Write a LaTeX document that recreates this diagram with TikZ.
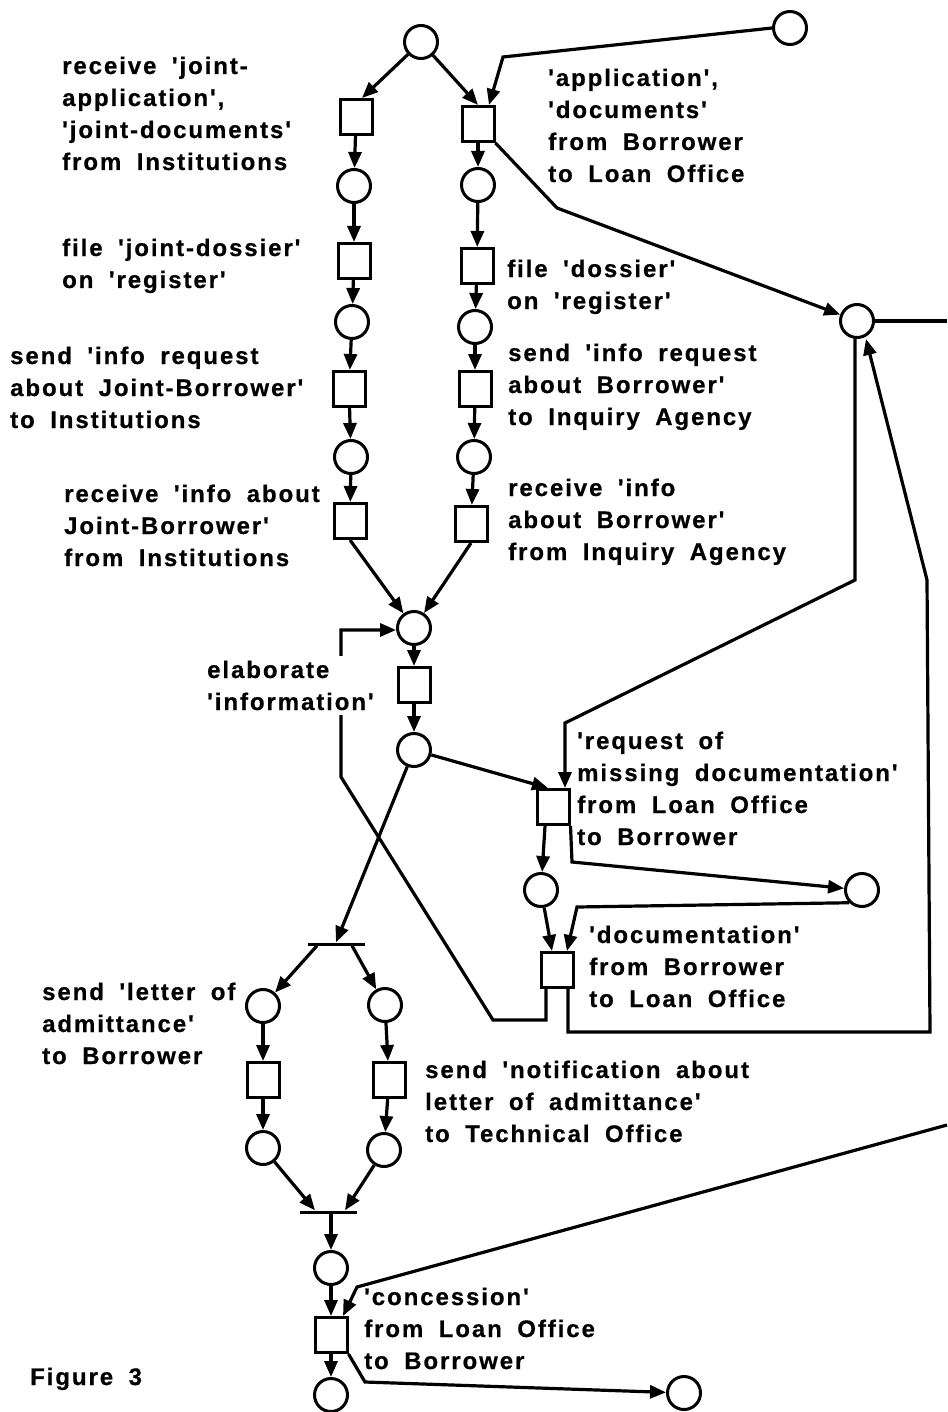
\documentclass[tikz,border=0pt]{standalone}
\usepackage{fontspec}
\newfontfamily\labfont[LetterSpace=8,WordSpace=1.8,Ligatures=TeXOff,BoldFeatures={FakeBold=0.6}]{Liberation Sans}
\usetikzlibrary{arrows.meta}
\begin{document}
\begin{tikzpicture}[x=1pt,y=-1pt,
  place/.style={circle,draw,minimum size=33pt,inner sep=0pt,line width=3pt},
  trans/.style={rectangle,draw,minimum width=32pt,minimum height=35pt,inner sep=0pt,line width=3pt},
  bar/.style={rectangle,fill=black,minimum width=57pt,minimum height=3pt,inner sep=0pt},
  arc/.style={-{Triangle[length=16pt,width=13pt]},line width=3.2pt},
  plain/.style={line width=3.2pt},
  lab/.style={anchor=base west,inner sep=0pt,align=left,font=\labfont\bfseries\fontsize{24}{32}\selectfont},
]
\useasboundingbox (0,0) rectangle (947,1412);

% places and transitions
\node[place] (P0) at (421,42) {};
\node[place] (Pin) at (790,28) {};
\node[trans] (TL1) at (356,117) {};
\node[place] (PL1) at (354,186) {};
\node[trans] (TL2) at (354,261) {};
\node[place] (PL2) at (352,322) {};
\node[trans] (TL3) at (349,389) {};
\node[place] (PL3) at (351,457) {};
\node[trans] (TL4) at (350,521) {};
\node[trans] (TR1) at (478,124) {};
\node[place] (PR1) at (478,185) {};
\node[trans] (TR2) at (477,266) {};
\node[place] (PR2) at (475,327) {};
\node[trans] (TR3) at (475,389) {};
\node[place] (PR3) at (474,457) {};
\node[trans] (TR4) at (471,524) {};
\node[place] (Pm) at (414,628) {};
\node[trans] (Te) at (414,685) {};
\node[place] (Pa) at (414,750) {};
\node[place] (Poff) at (857,321) {};
\node[trans] (Treq) at (553,807) {};
\node[place] (Preq) at (541,890) {};
\node[place] (Pbr) at (862,890) {};
\node[trans] (Tdoc) at (557,970) {};
\node[bar] (fork) at (336,944) {};
\node[place] (PLa) at (263,1006) {};
\node[place] (PRa) at (385,1005) {};
\node[trans] (TLa) at (263,1080) {};
\node[trans] (TRa) at (389,1080) {};
\node[place] (PLb) at (263,1148) {};
\node[place] (PRb) at (384,1150) {};
\node[bar] (join) at (328,1212) {};
\node[place] (Pc) at (331,1268) {};
\node[trans] (Tc) at (331,1335) {};
\node[place] (Pend) at (331,1395) {};
\node[place] (Pout) at (684,1393) {};
\coordinate (edgeR) at (947,321);
\coordinate (edgeC) at (947,1125);

% connectors
\draw[arc] (P0) -- ([xshift=6pt]TL1.north);
\draw[arc] (P0) -- (TR1.north);
\draw[arc] (Pin.west) -- (503,57) -- ([xshift=11pt]TR1.north);
\draw[arc] (TL1) -- (PL1);
\draw[arc] (PL1) -- (TL2);
\draw[arc] (TL2) -- (PL2);
\draw[arc] (PL2) -- (TL3);
\draw[arc] (TL3) -- (PL3);
\draw[arc] (PL3) -- (TL4);
\draw[arc] (TR1) -- (PR1);
\draw[arc] (PR1) -- (TR2);
\draw[arc] (TR2) -- (PR2);
\draw[arc] (PR2) -- (TR3);
\draw[arc] (TR3) -- (PR3);
\draw[arc] (PR3) -- (TR4);
\draw[arc] (TL4.south) -- (Pm);
\draw[arc] (TR4.south) -- (Pm);
\draw[arc] (Pm) -- (Te);
\draw[arc] (Te) -- (Pa);
\draw[arc] (TR1.south east) -- (557,208) -- (Poff);
\draw[plain] (Poff) -- (edgeR);
\draw[arc] ([xshift=-2pt]Poff.south) -- (855,580) -- (565,723) -- ([xshift=12pt]Treq.north);
\draw[arc] ([xshift=11pt]Tdoc.south) -- (568,1032) -- (930,1032) -- (927,580) -- ([xshift=9pt]Poff.south);
\draw[arc] (Pa) -- ([xshift=-5pt]Treq.north);
\draw[arc] (Pa) -- (fork.north);
\draw[arc] ([xshift=-8pt]Treq.south) -- (Preq);
\draw[arc] (Treq.south east) -- (572,862) -- (Pbr);
\draw[arc] (Preq) -- ([xshift=-5pt]Tdoc.north);
\draw[arc] (Pbr.south west) -- (577,907) -- ([xshift=10pt]Tdoc.north);
\draw[arc] ([xshift=-11pt]Tdoc.south) -- (546,1020) -- (493,1020) -- (341,777) -- (341,630) -- (Pm.west |- 341,630);
\draw[arc] ([xshift=-19pt]fork.south) -- (PLa);
\draw[arc] ([xshift=16pt]fork.south) -- (PRa);
\draw[arc] (PLa) -- (TLa);
\draw[arc] (TLa) -- (PLb);
\draw[arc] (PRa) -- (TRa);
\draw[arc] (TRa) -- (PRb);
\draw[arc] (PLb) -- ([xshift=-13pt]join.north);
\draw[arc] (PRb) -- ([xshift=17pt]join.north);
\draw[arc] ([xshift=3pt]join.south) -- (Pc);
\draw[arc] (Pc) -- (Tc);
\draw[arc] (Tc) -- (Pend);
\draw[arc] (Tc.south east) -- (365,1382) -- (Pout);
\draw[arc] (edgeC) -- (357,1287) -- ([xshift=12pt]Tc.north);

% labels (anchored at the baseline of their last line)
\node[lab] (t1) at (62,170) {receive 'joint-\\application',\\'joint-documents'\\from Institutions};
\node[lab] (t2) at (548,182) {'application',\\'documents'\\from Borrower\\to Loan Office};
\node[lab] (t3) at (62,288) {file 'joint-dossier'\\on 'register'};
\node[lab] (t4) at (507,309) {file 'dossier'\\on 'register'};
\node[lab] (t5) at (10,428) {send 'info request\\about Joint-Borrower'\\to Institutions};
\node[lab] (t6) at (508,425) {send 'info request\\about Borrower'\\to Inquiry Agency};
\node[lab] (t7) at (64,566) {receive 'info about\\Joint-Borrower'\\from Institutions};
\node[lab] (t8) at (508,560) {receive 'info\\about Borrower'\\from Inquiry Agency};
\node[lab,fill=white,inner ysep=5pt] (t9) at (207,710) {elaborate\\'information'};
\node[lab] (t10) at (577,845) {'request of\\missing documentation'\\from Loan Office\\to Borrower};
\node[lab] (t11) at (589,1007) {'documentation'\\from Borrower\\to Loan Office};
\node[lab] (t12) at (42,1064) {send 'letter of\\admittance'\\to Borrower};
\node[lab] (t13) at (425,1142) {send 'notification about\\letter of admittance'\\to Technical Office};
\node[lab] (t14) at (364,1369) {'concession'\\from Loan Office\\to Borrower};
\node[lab] (t15) at (30,1385) {Figure 3};
\end{tikzpicture}
\end{document}
